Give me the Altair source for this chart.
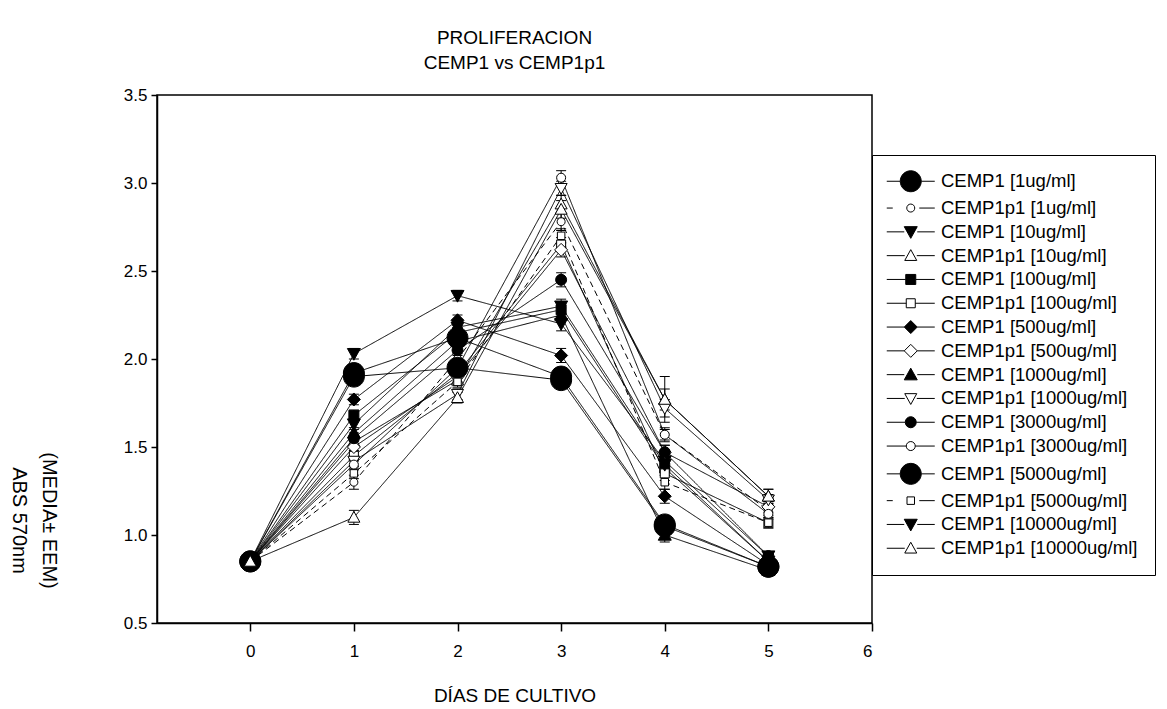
import altair as alt
import pandas as pd

F = "Liberation Sans"

days = [0, 1, 2, 3, 4, 5]
series_names = [
    "CEMP1 [1ug/ml]", "CEMP1p1 [1ug/ml]", "CEMP1 [10ug/ml]", "CEMP1p1 [10ug/ml]",
    "CEMP1 [100ug/ml]", "CEMP1p1 [100ug/ml]", "CEMP1 [500ug/ml]", "CEMP1p1 [500ug/ml]",
    "CEMP1 [1000ug/ml]", "CEMP1p1 [1000ug/ml]", "CEMP1 [3000ug/ml]", "CEMP1p1 [3000ug/ml]",
    "CEMP1 [5000ug/ml]", "CEMP1p1 [5000ug/ml]", "CEMP1 [10000ug/ml]", "CEMP1p1 [10000ug/ml]",
]

# mean absorbance per day (0..5)
cemp1_1 = [0.85, 1.92, 2.12, 1.90, 1.06, 0.82]
cemp1p1_1 = [0.85, 1.30, 2.00, 2.78, 1.57, 1.14]
cemp1_10 = [0.85, 2.03, 2.36, 2.20, 1.42, 0.88]
cemp1p1_10 = [0.85, 1.53, 1.88, 2.88, 1.77, 1.22]
cemp1_100 = [0.85, 1.68, 2.15, 2.28, 1.38, 0.85]
cemp1p1_100 = [0.85, 1.45, 1.92, 2.65, 1.35, 1.07]
cemp1_500 = [0.85, 1.77, 2.22, 2.02, 1.22, 0.83]
cemp1p1_500 = [0.85, 1.50, 1.90, 2.62, 1.47, 1.16]
cemp1_1000 = [0.85, 1.58, 2.10, 2.25, 1.00, 0.80]
cemp1p1_1000 = [0.85, 1.42, 1.80, 2.97, 1.72, 1.20]
cemp1_3000 = [0.85, 1.55, 2.05, 2.45, 1.47, 0.88]
cemp1p1_3000 = [0.85, 1.40, 1.95, 3.03, 1.57, 1.12]
cemp1_5000 = [0.85, 1.90, 1.95, 1.88, 1.05, 0.82]
cemp1p1_5000 = [0.85, 1.35, 1.87, 2.70, 1.30, 1.07]
cemp1_10000 = [0.85, 1.63, 2.18, 2.30, 1.40, 0.85]
cemp1p1_10000 = [0.85, 1.10, 1.78, 2.85, 1.77, 1.22]

# standard error of the mean per day
sem_1 = [0.01, 0.04, 0.03, 0.04, 0.05, 0.02]
sem_p1_1 = [0.01, 0.04, 0.03, 0.05, 0.03, 0.03]
sem_10 = [0.01, 0.03, 0.03, 0.04, 0.04, 0.02]
sem_p1_10 = [0.01, 0.03, 0.03, 0.05, 0.13, 0.04]
sem_100 = [0.01, 0.03, 0.03, 0.04, 0.04, 0.02]
sem_p1_100 = [0.01, 0.03, 0.03, 0.04, 0.04, 0.03]
sem_500 = [0.01, 0.03, 0.03, 0.04, 0.04, 0.02]
sem_p1_500 = [0.01, 0.03, 0.03, 0.04, 0.04, 0.03]
sem_1000 = [0.01, 0.03, 0.03, 0.04, 0.04, 0.02]
sem_p1_1000 = [0.01, 0.03, 0.03, 0.04, 0.05, 0.03]
sem_3000 = [0.01, 0.03, 0.03, 0.04, 0.04, 0.02]
sem_p1_3000 = [0.01, 0.03, 0.03, 0.04, 0.04, 0.03]
sem_5000 = [0.01, 0.03, 0.03, 0.04, 0.04, 0.02]
sem_p1_5000 = [0.01, 0.03, 0.03, 0.04, 0.04, 0.03]
sem_10000 = [0.01, 0.03, 0.03, 0.04, 0.04, 0.02]
sem_p1_10000 = [0.01, 0.04, 0.03, 0.05, 0.06, 0.04]

all_vals = [cemp1_1, cemp1p1_1, cemp1_10, cemp1p1_10, cemp1_100, cemp1p1_100,
            cemp1_500, cemp1p1_500, cemp1_1000, cemp1p1_1000, cemp1_3000, cemp1p1_3000,
            cemp1_5000, cemp1p1_5000, cemp1_10000, cemp1p1_10000]
all_sems = [sem_1, sem_p1_1, sem_10, sem_p1_10, sem_100, sem_p1_100,
            sem_500, sem_p1_500, sem_1000, sem_p1_1000, sem_3000, sem_p1_3000,
            sem_5000, sem_p1_5000, sem_10000, sem_p1_10000]

rows = []
for name, vals, sems in zip(series_names, all_vals, all_sems):
    for d, v, s in zip(days, vals, sems):
        rows.append({"series": name, "day": d, "value": v, "sem": s})
df = pd.DataFrame(rows)

# ---- marker styles (unit = sqrt(size)/2 px) ----
def circle(r):
    return f"M{-r},0A{r},{r} 0 1,0 {r},0A{r},{r} 0 1,0 {-r},0Z"
def square(h):
    return f"M{-h},{-h}H{h}V{h}H{-h}Z"
def diamond(h):
    return f"M0,{-h}L{h},0L0,{h}L{-h},0Z"
def tri_up(h):
    return f"M0,{-h}L{h},{h*0.8}L{-h},{h*0.8}Z"
def tri_down(h):
    return f"M0,{h}L{h},{-h*0.8}L{-h},{-h*0.8}Z"

styles = [
    (circle, 2.1, True, False), (circle, 0.8, False, True),
    (tri_down, 1.3, True, False), (tri_up, 1.2, False, False),
    (square, 1.0, True, False), (square, 0.9, False, False),
    (diamond, 1.3, True, False), (diamond, 1.3, False, False),
    (tri_up, 1.3, True, False), (tri_down, 1.2, False, False),
    (circle, 1.1, True, False), (circle, 0.9, False, False),
    (circle, 2.1, True, False), (square, 0.75, False, True),
    (tri_down, 1.3, True, False), (tri_up, 1.2, False, False),
]
marker_paths = [fn(s) for fn, s, _, _ in styles]
fills = ["black" if f else "white" for _, _, f, _ in styles]
dashes = [[6, 4] if d else [1, 0] for _, _, _, d in styles]
legend_paths = []
for fn, s, f, d in styles:
    if d:
        stubs = "M-4.8,0H-3.6M1.7,0H4.8"
    else:
        stubs = f"M-4.8,0H{-s}M{s},0H4.8"
    legend_paths.append(stubs + fn(s))

x_axis = alt.Axis(values=[0, 1, 2, 3, 4, 5, 6], format="d", title="DÍAS DE CULTIVO",
                  tickSize=8, labelPadding=12, titleY=72, titleBaseline="middle",
                  titleFontSize=19)
y_axis = alt.Axis(values=[0.5, 1.0, 1.5, 2.0, 2.5, 3.0, 3.5], format=".1f",
                  title=["(MEDIA± EEM)", "ABS 570nm"], titleAngle=90, titleX=-109,
                  titleY=425, titleAlign="center", titleBaseline="middle",
                  titleLineHeight=30, titleFontSize=20, tickSize=6, labelPadding=4)
xs = alt.Scale(domain=[-0.9, 6], nice=False, zero=False)
ys = alt.Scale(domain=[0.5, 3.5], nice=False, zero=False)

base = alt.Chart(df)

lines = base.mark_line(color="black", strokeWidth=1).encode(
    x=alt.X("day:Q", scale=xs, axis=x_axis),
    y=alt.Y("value:Q", scale=ys, axis=y_axis),
    detail="series:N",
    strokeDash=alt.StrokeDash("series:N", scale=alt.Scale(domain=series_names, range=dashes), legend=None),
)

err = base.transform_calculate(
    lo="datum.value - datum.sem", hi="datum.value + datum.sem"
).mark_rule(color="black", strokeWidth=1).encode(
    x=alt.X("day:Q", scale=xs, axis=x_axis),
    y=alt.Y("lo:Q", scale=ys, axis=y_axis),
    y2="hi:Q",
)

caps = base.transform_calculate(
    lo="datum.value - datum.sem", hi="datum.value + datum.sem"
).transform_fold(["lo", "hi"], as_=["end", "ypos"]).mark_tick(
    orient="horizontal", size=10, thickness=1, color="black", opacity=1
).encode(
    x=alt.X("day:Q", scale=xs, axis=x_axis),
    y=alt.Y("ypos:Q", scale=ys, axis=y_axis),
)

points = base.mark_point(filled=True, size=100, opacity=1, stroke="black", strokeWidth=1).encode(
    x=alt.X("day:Q", scale=xs, axis=x_axis),
    y=alt.Y("value:Q", scale=ys, axis=y_axis),
    shape=alt.Shape("series:N", scale=alt.Scale(domain=series_names, range=marker_paths), legend=None),
    fill=alt.Fill("series:N", scale=alt.Scale(domain=series_names, range=fills), legend=None),
)

leg = alt.Legend(orient="none", legendX=715, legendY=60, title=None, padding=17,
                 symbolOffset=12.5, labelOffset=21, rowPadding=4.8, labelFontSize=18.5,
                 labelFont=F, labelColor="black", strokeColor="black", fillColor="white",
                 symbolSize=100, symbolStrokeWidth=1, labelLimit=400)

legend_layer = base.transform_filter("false").mark_point(
    filled=True, size=100, opacity=1, strokeWidth=1
).encode(
    shape=alt.Shape("series:N", scale=alt.Scale(domain=series_names, range=legend_paths), legend=leg),
    fill=alt.Fill("series:N", scale=alt.Scale(domain=series_names, range=fills), legend=leg),
    stroke=alt.Stroke("series:N", scale=alt.Scale(domain=series_names, range=["black"] * 16), legend=leg),
)

chart = alt.layer(lines, err, caps, points, legend_layer).resolve_scale(
    shape="independent", fill="independent", stroke="independent"
).properties(
    width=715, height=528,
    title=alt.TitleParams(["PROLIFERACION", "CEMP1 vs CEMP1p1"], font=F, fontSize=19,
                          fontWeight="normal", color="black", anchor="middle",
                          frame="group", offset=13, lineHeight=25),
    padding={"left": 149, "top": 87, "right": 287, "bottom": 90},
    autosize=alt.AutoSizeParams(type="none"),
).configure_view(stroke="black", strokeWidth=1.5).configure_axis(
    grid=False, domainColor="black", domainWidth=1.5, tickColor="black", tickWidth=1.5,
    labelColor="black", labelFont=F, labelFontSize=17, titleColor="black", titleFont=F,
    titleFontWeight="normal",
)

chart.save("out.html", embed_options={"renderer": "svg", "actions": False})
